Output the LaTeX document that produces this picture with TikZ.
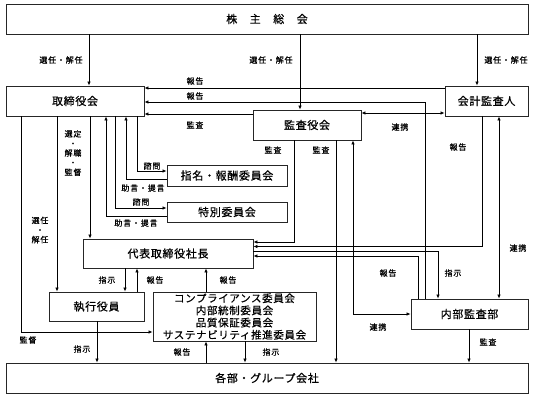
\documentclass[tikz,border=0pt]{standalone}
\usepackage{fontspec}
\newfontfamily\jpbox{Noto Sans CJK JP}[LetterSpace=6,FakeBold=0.6]
\newfontfamily\jplab{Noto Sans CJK JP}[LetterSpace=10,FakeBold=0.6]
\usetikzlibrary{arrows.meta}
\begin{document}
\begin{tikzpicture}[x=1pt,y=-1pt,
  box/.style={draw=black!85, line width=0.9pt, inner sep=0pt, align=center,
    font=\jpbox\fontsize{11}{13}\selectfont},
  lab/.style={inner sep=0pt, align=center, font=\jplab\fontsize{8}{9.6}\selectfont},
  arr/.style={-{Latex[length=4pt,width=3.5pt]}, line width=0.7pt},
  barr/.style={{Latex[length=4pt,width=3.5pt]}-{Latex[length=4pt,width=3.5pt]}, line width=0.7pt}]
\useasboundingbox (0,0) rectangle (534,397);
% boxes
\node[box, minimum width=522pt, minimum height=30pt] (kabu) at (267,19) {株\hspace{12.5pt}主\hspace{12.5pt}総\hspace{12.5pt}会};
\node[box, minimum width=138pt, minimum height=30pt] (tori) at (75,101) {取締役会};
\node[box, minimum width=83pt, minimum height=30pt] (kaikei) at (486.5,101) {会計監査人};
\node[box, minimum width=108pt, minimum height=30pt] (kansa) at (307,125) {監査役会};
\node[box, minimum width=120pt, minimum height=21pt] (shimei) at (227,175.5) {指名・報酬委員会};
\node[box, minimum width=120pt, minimum height=20pt] (toku) at (227,212) {特別委員会};
\node[box, minimum width=170pt, minimum height=29pt] (daihyo) at (168,253.5) {代表取締役社長};
\node[box, minimum width=95pt, minimum height=29pt] (shikko) at (96.5,306.5) {執行役員};
\node[box, minimum width=163pt, minimum height=49pt, font=\jpbox\fontsize{10.5}{12.2}\selectfont] (comp) at (234.5,316.5) {コンプライアンス委員会\\内部統制委員会\\品質保証委員会\\サステナビリティ推進委員会};
\node[box, minimum width=117pt, minimum height=30pt] (naibu) at (469.5,314) {内部監査部};
\node[box, minimum width=522pt, minimum height=30pt] (kakubu) at (267,378) {各部・グループ会社};
% connectors
\draw[arr] (kabu.south -| 89,0) -- (tori.north -| 89,0);
\draw[arr] (kabu.south -| 300,0) -- (kansa.north -| 300,0);
\draw[arr] (kabu.south -| 477,0) -- (kaikei.north -| 477,0);
\draw[arr] (kaikei.west |- 0,88) -- (tori.east |- 0,88);
\draw[arr] (naibu.north -| 425,0) |- (tori.east |- 0,102);
\draw[arr] (kansa.west |- 0,114) -- (tori.east |- 0,114);
\draw[barr] (kansa.east |- 0,113) -- (kaikei.west |- 0,113);
\draw[arr] (kansa.south -| 294,0) |- (daihyo.east |- 0,242);
\draw[arr] (kansa.south -| 336,0) -- (kakubu.north -| 336,0);
\draw[barr] (naibu.west |- 0,314) -| (kansa.south -| 353,0);
\draw[arr] (kaikei.south -| 482,0) |- (daihyo.east |- 0,246.5);
\draw[barr] (kaikei.south -| 499,0) -- (naibu.north -| 499,0);
\draw[arr] (daihyo.east |- 0,251) -| (naibu.north -| 438,0);
\draw[arr] (naibu.north -| 418,0) |- (daihyo.east |- 0,256);
\draw[arr] (naibu.south -| 469,0) -- (kakubu.north -| 469,0);
\draw[arr] (tori.south -| 21,0) |- (comp.west |- 0,332);
\draw[arr] (tori.south -| 57,0) -- (shikko.north -| 57,0);
\draw[arr] (tori.south -| 90,0) -- (daihyo.north -| 90,0);
\draw[arr] (tori.south -| 137,0) |- (shimei.west |- 0,171);
\draw[arr] (shimei.west |- 0,179) -| (tori.south -| 126,0);
\draw[arr] (tori.south -| 115,0) |- (toku.west |- 0,208);
\draw[arr] (toku.west |- 0,216) -| (tori.south -| 106,0);
\draw[arr] (daihyo.south -| 125,0) -- (shikko.north -| 125,0);
\draw[arr] (shikko.north -| 137,0) -- (daihyo.south -| 137,0);
\draw[arr] (comp.north -| 206,0) -- (daihyo.south -| 206,0);
\draw[arr] (shikko.south -| 97,0) -- (kakubu.north -| 97,0);
\draw[arr] (kakubu.north -| 206,0) -- (comp.south -| 206,0);
\draw[arr] (comp.south -| 245,0) -- (kakubu.north -| 245,0);
% labels
\node[lab] (l1) at (61,60) {選任・解任};
\node[lab] (l2) at (271,60) {選任・解任};
\node[lab] (l3) at (506,60) {選任・解任};
\node[lab] (l4) at (195,81) {報告};
\node[lab] (l5) at (195,96) {報告};
\node[lab] (l6) at (195,125) {監査};
\node[lab] (l7) at (400,127) {連携};
\node[lab] (l8) at (458,147) {報告};
\node[lab] (l9) at (273,150) {監査};
\node[lab] (l10) at (321,150) {監査};
\node[lab] (l11) at (73,153) {選定\\・\\解職\\・\\監督};
\node[lab] (l12) at (152,166) {諮問};
\node[lab] (l13) at (143,188) {助言・提言};
\node[lab] (l14) at (141,202) {諮問};
\node[lab] (l15) at (136,223) {助言・提言};
\node[lab] (l16) at (40,230) {選任\\・\\解任};
\node[lab] (l17) at (518,248) {連携};
\node[lab] (l18) at (107,280) {指示};
\node[lab] (l19) at (155,280) {報告};
\node[lab] (l20) at (228,280) {報告};
\node[lab] (l21) at (388,273) {報告};
\node[lab] (l22) at (453,273) {指示};
\node[lab] (l23) at (378,327) {連携};
\node[lab] (l24) at (28,340) {監督};
\node[lab] (l25) at (82,349) {指示};
\node[lab] (l26) at (182,352) {報告};
\node[lab] (l27) at (271,352) {指示};
\node[lab] (l28) at (488,342) {監査};
\end{tikzpicture}
\end{document}
